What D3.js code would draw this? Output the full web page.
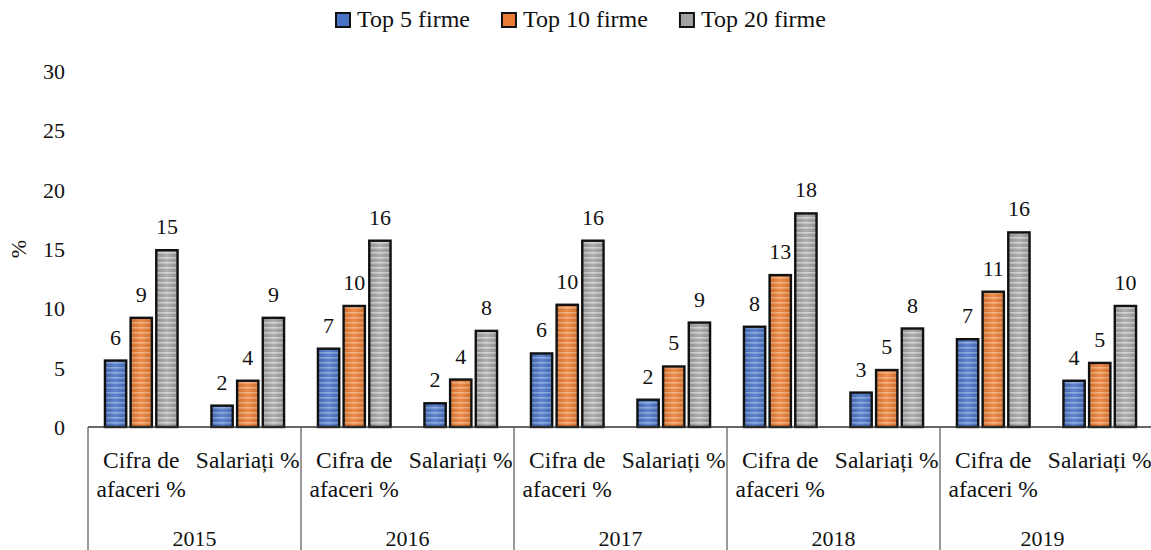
<!DOCTYPE html>
<html><head><meta charset="utf-8">
<script src="https://cdn.jsdelivr.net/npm/d3@7/dist/d3.min.js"></script>
<style>
body{margin:0;background:#fff;}
svg text{font-family:"Liberation Serif","DejaVu Serif",serif !important;fill:#111;}
</style></head>
<body><svg id="chart" width="1151" height="550"></svg>
<script>
const years = ["2015","2016","2017","2018","2019"];
const subcats = ["Cifra de afaceri %","Salariați %"];
const subcatLines = [["Cifra de","afaceri %"],["Salariați %"]];
const seriesNames = ["Top 5 firme","Top 10 firme","Top 20 firme"];
// values per year, order: [Cifra de afaceri, Salariați]
const top5  = [5.6, 1.8, 6.6, 2.0, 6.2, 2.3, 8.45, 2.9, 7.4, 3.9];
const top10 = [9.2, 3.9, 10.2, 4.0, 10.3, 5.1, 12.8, 4.8, 11.4, 5.4];
const top20 = [14.9, 9.2, 15.7, 8.1, 15.7, 8.8, 18.0, 8.3, 16.4, 10.2];
const yTicks = [0,5,10,15,20,25,30];

const colors = ["#4a74c6","#ea7d33","#a3a3a3"];
const stripes = ["#86a6e0","#f6ad78","#d4d4d4"];

const svg = d3.select("#chart");
const plotLeft = 88, plotRight = 1153, plotTop = 71, plotBottom = 427;

const keys = [];
years.forEach(yv => subcats.forEach(s => keys.push(yv + "|" + s)));
const seriesVals = [top5, top10, top20];

const x0 = d3.scaleBand().domain(keys).range([plotLeft, plotRight]).padding(0);
const xYear = d3.scaleBand().domain(years).range([plotLeft, plotRight]).padding(0);
const bw = x0.bandwidth();
const x1 = d3.scaleBand().domain(seriesNames).range([0, bw]).paddingInner(0.17).paddingOuter(0.66);
const y = d3.scaleLinear().domain([0, 30]).range([plotBottom, plotTop]);

// patterns
const defs = svg.append("defs");
colors.forEach((c, i) => {
  const p = defs.append("pattern").attr("id", "pat" + i)
    .attr("patternUnits", "userSpaceOnUse").attr("width", 10).attr("height", 5);
  p.append("rect").attr("width", 10).attr("height", 5).attr("fill", c);
  p.append("rect").attr("y", 2).attr("width", 10).attr("height", 1.6).attr("fill", stripes[i]);
  const g = defs.append("linearGradient").attr("id", "grad" + i);
  g.append("stop").attr("offset", "0%").attr("stop-color", "#000").attr("stop-opacity", 0.12);
  g.append("stop").attr("offset", "50%").attr("stop-color", "#fff").attr("stop-opacity", 0.12);
  g.append("stop").attr("offset", "100%").attr("stop-color", "#000").attr("stop-opacity", 0.12);
});

// y axis
const yAxis = d3.axisLeft(y).tickValues(yTicks).tickSize(0).tickPadding(0).tickFormat(d3.format("d"));
const ya = svg.append("g").attr("transform", "translate(65,0)").call(yAxis);
ya.attr("font-family", null).attr("font-size", null);
ya.select(".domain").remove();
ya.selectAll("text").style("font-size", "22px").attr("fill", "#111").attr("dy", "0.34em");

svg.append("text").attr("transform", "translate(26,249) rotate(-90)")
  .attr("text-anchor", "middle").style("font-size", "22px").text("%");

// bars
const barData = [];
keys.forEach((k, ki) => seriesNames.forEach((s, si) => barData.push({k, s, si, v: seriesVals[si][ki]})));
const bars = svg.append("g");
bars.selectAll("rect.b").data(barData).join("rect").attr("class", "b")
  .attr("x", d => x0(d.k) + x1(d.s)).attr("width", x1.bandwidth())
  .attr("y", d => y(d.v)).attr("height", d => y(0) - y(d.v))
  .attr("fill", d => "url(#pat" + d.si + ")");
bars.selectAll("rect.g").data(barData).join("rect").attr("class", "g")
  .attr("x", d => x0(d.k) + x1(d.s)).attr("width", x1.bandwidth())
  .attr("y", d => y(d.v)).attr("height", d => y(0) - y(d.v))
  .attr("fill", d => "url(#grad" + d.si + ")")
  .attr("stroke", "#111").attr("stroke-width", 2.4);
bars.selectAll("text").data(barData).join("text")
  .attr("x", d => x0(d.k) + x1(d.s) + x1.bandwidth() / 2)
  .attr("y", d => y(d.v) - 16)
  .attr("text-anchor", "middle").style("font-size", "22px")
  .text(d => Math.round(d.v));

// x axis lines
const ax = svg.append("g");
ax.append("line").attr("x1", plotLeft).attr("x2", 1151).attr("y1", plotBottom).attr("y2", plotBottom)
  .attr("stroke", "#333").attr("stroke-width", 1.3);
years.forEach(yr => {
  ax.append("line").attr("x1", xYear(yr)).attr("x2", xYear(yr)).attr("y1", plotBottom).attr("y2", 550)
    .attr("stroke", "#555").attr("stroke-width", 1.2);
});
// sub category labels
keys.forEach((k, ki) => {
  const lines = subcatLines[ki % 2];
  const t = ax.append("text").attr("text-anchor", "middle").style("font-size", "23.5px");
  lines.forEach((ln, li) => {
    t.append("tspan").attr("x", x0(k) + bw / 2).attr("y", 468 + li * 29).text(ln);
  });
});
years.forEach(yr => {
  ax.append("text").attr("x", xYear(yr) + xYear.bandwidth() / 2 - (yr === "2019" ? 4 : 0)).attr("y", 546)
    .attr("text-anchor", "middle").style("font-size", "22px").text(yr);
});

// legend
const lg = svg.append("g");
let lx = 336;
seriesNames.forEach((s, i) => {
  lg.append("rect").attr("x", lx).attr("y", 13).attr("width", 14).attr("height", 14)
    .attr("fill", colors[i]).attr("stroke", "#111").attr("stroke-width", 2);
  const t = lg.append("text").attr("x", lx + 21).attr("y", 27).style("font-size", "24px").text(s);
  const w = t.node().getComputedTextLength();
  lx = lx + 21 + w + 32;
});
</script></body></html>
